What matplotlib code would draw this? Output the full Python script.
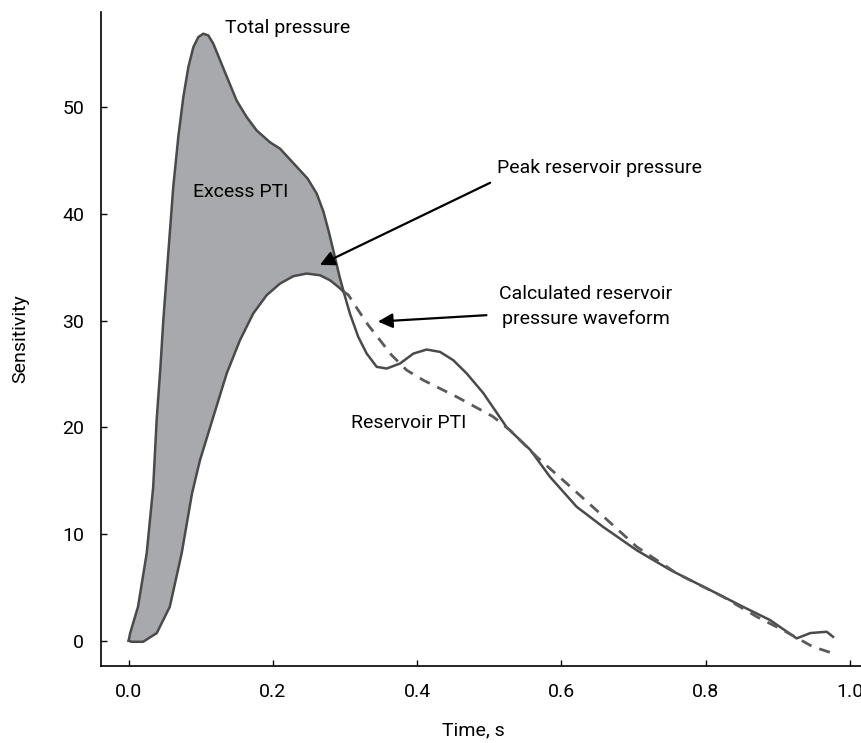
import matplotlib
matplotlib.use("Agg")
import matplotlib.pyplot as plt
import numpy as np

plt.rcParams['font.family'] = ['Roboto', 'DejaVu Sans']

# total pressure, rising edge up to the point where it meets the reservoir curve
t_total = [0.0, 0.002, 0.013, 0.025, 0.034, 0.0388, 0.044, 0.048, 0.0549, 0.0618,
           0.0688, 0.0757, 0.0826, 0.0896, 0.0965, 0.1034, 0.1104, 0.1173, 0.1266,
           0.1381, 0.1497, 0.1636, 0.1775, 0.1959, 0.2098, 0.233, 0.248, 0.2606,
           0.2700, 0.2775, 0.2850, 0.2920, 0.298]
p_total = [0.0, 0.7, 3.2, 8.2, 14.4, 20.7, 25.6, 30.0, 36.3, 42.5,
           47.2, 50.9, 53.7, 55.6, 56.55, 56.87, 56.71, 55.94, 54.4,
           52.5, 50.6, 49.06, 47.8, 46.7, 46.1, 44.4, 43.3, 41.9,
           40.2, 38.3, 36.2, 34.2, 32.7]

# total pressure after the join (diastole)
t_tail = [0.298, 0.3067, 0.3183, 0.330, 0.3438, 0.3577, 0.3761, 0.3946, 0.4131,
          0.4316, 0.450, 0.4686, 0.4916, 0.524, 0.5565, 0.584, 0.621, 0.6576,
          0.704, 0.751, 0.806, 0.8517, 0.889, 0.926, 0.945, 0.9677, 0.9764]
p_tail = [32.7, 30.65, 28.46, 26.9, 25.66, 25.5, 25.97, 26.9, 27.28,
          27.06, 26.28, 25.04, 23.2, 20.0, 17.9, 15.36, 12.55, 10.67,
          8.49, 6.62, 4.75, 3.18, 1.94, 0.22, 0.72, 0.84, 0.37]

# reservoir pressure during systole (lower edge of the excess area)
t_res = [0.0, 0.004, 0.020, 0.039, 0.057, 0.0735, 0.0878, 0.0988, 0.1173, 0.1359,
         0.1543, 0.1727, 0.1913, 0.2098, 0.2282, 0.2468, 0.2652, 0.2791, 0.2906,
         0.298]
p_res = [0.0, -0.1, -0.1, 0.72, 3.18, 8.2, 13.8, 16.9, 20.97, 25.04,
         28.16, 30.66, 32.37, 33.46, 34.15, 34.4, 34.24, 33.77, 33.15,
         32.7]

# calculated reservoir pressure waveform (dashed)
t_calc = [0.298, 0.3045, 0.3183, 0.3322, 0.3484, 0.3646, 0.3854, 0.4084, 0.4316,
          0.4547, 0.505, 0.529, 0.5657, 0.6072, 0.6534, 0.7043, 0.7597, 0.824,
          0.8707, 0.9068, 0.9484, 0.9764]
p_calc = [32.7, 32.4, 30.96, 29.56, 28.16, 26.75, 25.35, 24.41, 23.63,
          22.85, 21.0, 19.7, 17.23, 14.74, 11.93, 8.8, 6.31, 4.12,
          2.25, 1.0, -0.56, -1.18]

x_ticks = [0.0, 0.2, 0.4, 0.6, 0.8, 1.0]
y_ticks = [0, 10, 20, 30, 40, 50]

line_col = '#4a4a4a'
fill_col = '#a7a9ac'

fig = plt.figure(figsize=(8.62, 7.43), dpi=100)
ax = fig.add_axes([0.1168, 0.1036, 0.8832, 0.8802])

# excess PTI area between total and reservoir pressure
poly_t = t_total + t_res[::-1]
poly_p = p_total + p_res[::-1]
ax.fill(poly_t, poly_p, color=fill_col, lw=0)

ax.plot(t_total, p_total, color=line_col, lw=1.8, solid_joinstyle='round')
ax.plot(t_res, p_res, color=line_col, lw=1.8, solid_joinstyle='round')
ax.plot(t_tail, p_tail, color=line_col, lw=1.8, solid_joinstyle='round')
ax.plot(t_calc, p_calc, color='#5a5a5a', lw=2.0, dashes=(4, 3))

ax.set_xlim(-0.0388, 1.0166)
ax.set_ylim(-2.37, 58.9)
ax.set_xticks(x_ticks)
ax.set_xticklabels([f'{v:.1f}' for v in x_ticks])
ax.set_yticks(y_ticks)
ax.tick_params(direction='in', length=4, width=1, labelsize=14, pad=12)

for s in ['top', 'right']:
    ax.spines[s].set_visible(False)
for s in ['left', 'bottom']:
    ax.spines[s].set_linewidth(1.2)

ax.set_xlabel('Time, s', fontsize=14)
ax.set_ylabel('Sensitivity', fontsize=14)
ax.xaxis.set_label_coords(0.49, -0.084)
ax.yaxis.set_label_coords(-0.094, 0.5)

fs = 14
ax.text(0.1335, 57.4, 'Total pressure', fontsize=fs, ha='left', va='center')
ax.text(0.0894, 42.0, 'Excess PTI', fontsize=fs, ha='left', va='center')
ax.text(0.3886, 20.4, 'Reservoir PTI', fontsize=fs, ha='center', va='center')
ax.text(0.5106, 44.3, 'Peak reservoir pressure', fontsize=fs, ha='left', va='center')
ax.text(0.634, 31.3, 'Calculated reservoir\npressure waveform', fontsize=fs,
        ha='center', va='center', linespacing=1.45)

arrow = dict(arrowstyle='-|>', color='black', lw=1.6, mutation_scale=22,
             shrinkA=0, shrinkB=0)
ax.annotate('', xy=(0.265, 35.2), xytext=(0.501, 42.9), arrowprops=arrow)
ax.annotate('', xy=(0.3455, 29.9), xytext=(0.496, 30.5), arrowprops=arrow)

fig.savefig('out.png', dpi=100)
